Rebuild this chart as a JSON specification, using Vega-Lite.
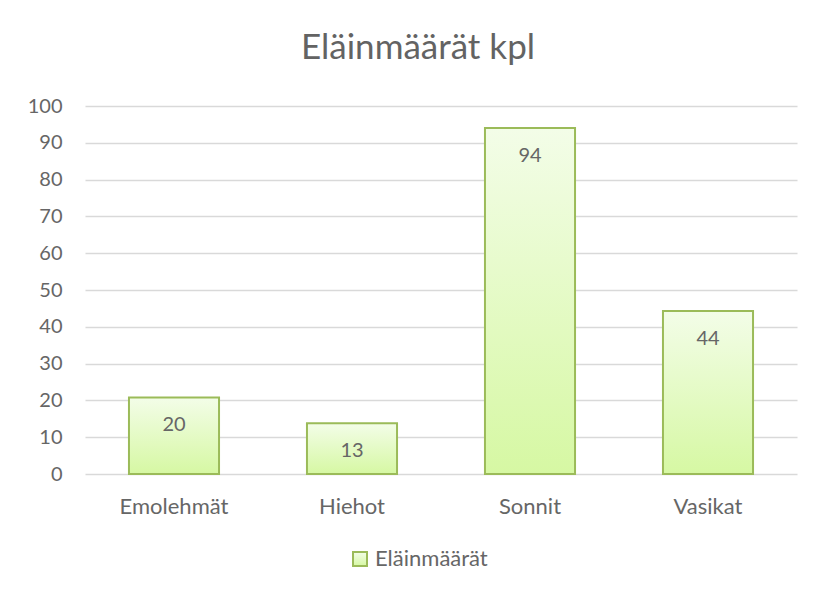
{
  "$schema": "https://vega.github.io/schema/vega-lite/v6.json",
  "width": 712,
  "height": 368,
  "autosize": {"type": "none"},
  "padding": {"left": 85, "top": 106, "right": 16, "bottom": 118},
  "background": "white",
  "title": {
    "text": "Eläinmäärät kpl",
    "anchor": "middle",
    "frame": "group",
    "dx": -23,
    "offset": 2,
    "baseline": "alphabetic",
    "font": "Lato",
    "fontSize": 35,
    "fontWeight": "normal",
    "color": "#636363"
  },
  "config": {
    "view": {"stroke": null},
    "font": "Lato"
  },
  "data": {
    "values": [
      {"kategoria": "Emolehmät", "arvo": 20.8, "nimi": "20"},
      {"kategoria": "Hiehot", "arvo": 13.8, "nimi": "13"},
      {"kategoria": "Sonnit", "arvo": 94, "nimi": "94"},
      {"kategoria": "Vasikat", "arvo": 44.3, "nimi": "44"}
    ]
  },
  "encoding": {
    "x": {
      "field": "kategoria",
      "type": "nominal",
      "sort": null,
      "scale": {"paddingInner": 0.494, "paddingOuter": 0.247},
      "axis": {
        "title": null,
        "labelAngle": 0,
        "ticks": false,
        "domain": false,
        "labelFont": "Lato",
        "labelFontSize": 22,
        "labelColor": "#666666",
        "labelBaseline": "alphabetic",
        "labelPadding": 39
      }
    },
    "y": {
      "field": "arvo",
      "type": "quantitative",
      "scale": {"domain": [0, 100], "nice": false},
      "axis": {
        "title": null,
        "values": [0, 10, 20, 30, 40, 50, 60, 70, 80, 90, 100],
        "ticks": false,
        "domain": false,
        "gridColor": "#D9D9D9",
        "gridWidth": 1.5,
        "labelFont": "Lato",
        "labelFontSize": 20,
        "labelColor": "#666666",
        "labelPadding": 23
      }
    }
  },
  "layer": [
    {
      "mark": {
        "type": "bar",
        "fill": {
          "gradient": "linear",
          "x1": 0, "y1": 0, "x2": 0, "y2": 1,
          "stops": [
            {"offset": 0, "color": "#F3FDE8"},
            {"offset": 1, "color": "#D6F8A3"}
          ]
        },
        "strokeWidth": 2
      },
      "encoding": {
        "stroke": {
          "datum": "Eläinmäärät",
          "type": "nominal",
          "scale": {"range": ["#9BBB59"]},
          "legend": {
            "title": null,
            "orient": "none",
            "legendX": 264,
            "legendY": 442,
            "symbolType": "square",
            "symbolSize": 196,
            "symbolStrokeWidth": 2,
            "symbolFillColor": "#E6FAC8",
            "labelFont": "Lato",
            "labelFontSize": 22,
            "labelColor": "#666666",
            "labelOffset": 4,
            "encode": {
              "symbols": {"update": {"fill": {"value": "#E6FAC8"}, "stroke": {"value": "#9BBB59"}}}
            }
          }
        }
      }
    },
    {
      "mark": {
        "type": "text",
        "baseline": "middle",
        "dy": 28,
        "font": "Lato",
        "fontSize": 20,
        "color": "#666666"
      },
      "encoding": {
        "text": {"field": "nimi", "type": "nominal"}
      }
    }
  ]
}
